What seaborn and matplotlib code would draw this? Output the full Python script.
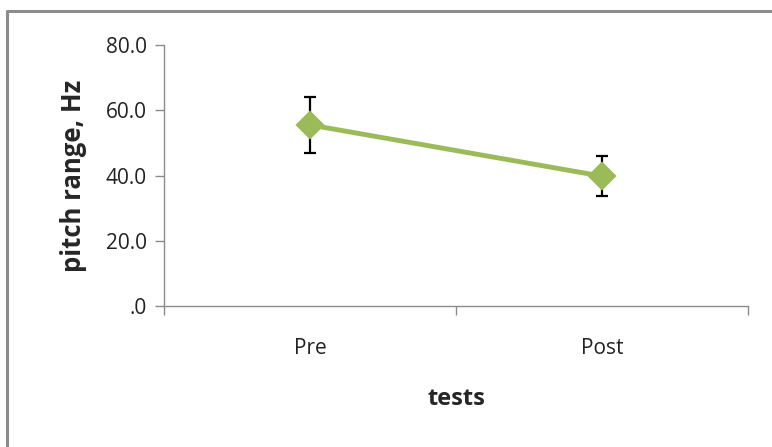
import pandas as pd
import matplotlib.pyplot as plt
import seaborn as sns
from matplotlib.lines import Line2D
from matplotlib.ticker import FuncFormatter

# Dados
tests = ['Pre', 'Post']
pitch_range = [55.5, 39.8]
erro = [8.7, 6.2]
y_ticks = [0, 20, 40, 60, 80]

df = pd.DataFrame({'tests': tests, 'pitch': pitch_range})

sns.set_style('white')
plt.rcParams['font.family'] = ['Open Sans', 'DejaVu Sans']

fig = plt.figure(figsize=(7.72, 4.47), dpi=100)
ax = fig.add_axes([164 / 772, 1 - 306 / 447, (748 - 164) / 772, (306 - 45) / 447])

verde = '#9BBB59'
cinza = '#8c8c8c'

# barras de erro (atrás dos marcadores)
ax.errorbar(range(len(tests)), pitch_range, yerr=erro, fmt='none', ecolor='black',
            elinewidth=1.6, capsize=4.3, capthick=1.6, zorder=1)

sns.pointplot(data=df, x='tests', y='pitch', color=verde, markers='D', errorbar=None,
              linewidth=3.5, markersize=12, ax=ax, zorder=3)

ax.set_xlim(-0.5, 1.5)
ax.set_ylim(0, 80)
ax.set_yticks(y_ticks)
ax.yaxis.set_major_formatter(FuncFormatter(lambda v, p: '.0' if v == 0 else f'{v:.1f}'))

ax.set_xticks(range(len(tests)))
ax.set_xticklabels(tests)
ax.set_xticks([-0.5, 0.5, 1.5], minor=True)
ax.tick_params(axis='x', which='major', bottom=True, length=0, pad=23, labelsize=15,
               labelcolor='#222222')
ax.tick_params(axis='x', which='minor', bottom=True, length=6.5, width=1, color=cinza,
               direction='out')
ax.tick_params(axis='y', length=6.5, width=1, color=cinza, direction='out', left=True,
               labelsize=15, labelcolor='#222222', pad=6)

for lado in ['top', 'right']:
    ax.spines[lado].set_visible(False)
for lado in ['left', 'bottom']:
    ax.spines[lado].set_color(cinza)
    ax.spines[lado].set_linewidth(1)

ax.set_xlabel('tests', fontsize=17, fontweight='bold', labelpad=20)
ax.set_ylabel('pitch range, Hz', fontsize=18.5, fontweight='bold', labelpad=13)

# moldura do gráfico (só esquerda e topo visíveis)
fig.add_artist(Line2D([7 / 772, 7 / 772, 1.0], [0.0, 1 - 11 / 447, 1 - 11 / 447],
                      transform=fig.transFigure, color=cinza, linewidth=2.2))

plt.savefig('out.png', dpi=100)
